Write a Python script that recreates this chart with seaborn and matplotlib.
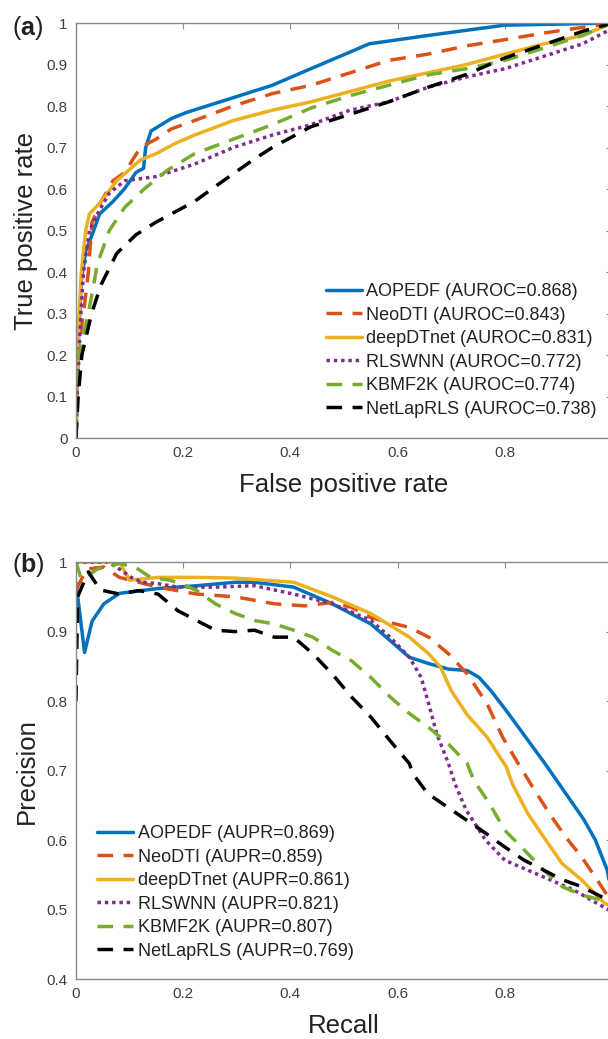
import numpy as np
import pandas as pd
import matplotlib
matplotlib.use("Agg")
import matplotlib.pyplot as plt
import seaborn as sns

sns.set_style("white")
plt.rcParams['font.family'] = ['Liberation Sans', 'DejaVu Sans']
plt.rcParams['mathtext.fontset'] = 'custom'
plt.rcParams['mathtext.rm'] = 'Liberation Sans'
plt.rcParams['mathtext.bf'] = 'Liberation Sans:bold'

methods = ["AOPEDF", "NeoDTI", "deepDTnet", "RLSWNN", "KBMF2K", "NetLapRLS"]
auroc = ["0.868", "0.843", "0.831", "0.772", "0.774", "0.738"]
aupr = ["0.869", "0.859", "0.861", "0.821", "0.807", "0.769"]
colors = ["#0072BD", "#D95319", "#EDB120", "#7E2F8E", "#77AC30", "#000000"]
styles = ["-", (0, (4.5, 3)), "-", (0, (1, 1.1)), (0, (4.5, 3)), (0, (4.5, 3))]

# ROC curves (false positive rate, true positive rate)
roc_fpr = {
    "AOPEDF": [0, 0.002, 0.005, 0.01, 0.018, 0.033, 0.044, 0.069, 0.09, 0.112, 0.126, 0.13, 0.14,
               0.178, 0.207, 0.293, 0.366, 0.438, 0.511, 0.547, 0.656, 0.80, 1.0],
    "NeoDTI": [0, 0.003, 0.008, 0.014, 0.023, 0.03, 0.047, 0.069, 0.091, 0.12, 0.149, 0.178, 0.221,
               0.293, 0.366, 0.438, 0.511, 0.583, 0.656, 0.728, 0.80, 0.873, 1.0],
    "deepDTnet": [0, 0.003, 0.006, 0.01, 0.018, 0.025, 0.047, 0.076, 0.12, 0.149, 0.185, 0.221, 0.293,
                  0.366, 0.438, 0.511, 0.583, 0.656, 0.728, 0.80, 0.873, 0.945, 1.0],
    "RLSWNN": [0, 0.002, 0.009, 0.014, 0.025, 0.040, 0.062, 0.091, 0.149, 0.221, 0.293, 0.366, 0.438,
               0.511, 0.583, 0.656, 0.728, 0.80, 0.873, 0.945, 0.99, 1.0],
    "KBMF2K": [0, 0.003, 0.005, 0.023, 0.04, 0.062, 0.091, 0.127, 0.17, 0.221, 0.293, 0.366, 0.438,
               0.511, 0.583, 0.656, 0.728, 0.80, 0.873, 0.945, 1.0],
    "NetLapRLS": [0, 0.004, 0.011, 0.029, 0.047, 0.076, 0.112, 0.149, 0.221, 0.264, 0.330, 0.366, 0.438,
                  0.511, 0.583, 0.656, 0.728, 0.80, 0.873, 0.945, 1.0],
}
roc_tpr = {
    "AOPEDF": [0, 0.1, 0.25, 0.38, 0.45, 0.5, 0.54, 0.57, 0.6, 0.64, 0.65, 0.7, 0.74,
               0.77, 0.785, 0.82, 0.85, 0.89, 0.93, 0.95, 0.97, 0.995, 1.0],
    "NeoDTI": [0, 0.15, 0.25, 0.3, 0.4, 0.52, 0.57, 0.62, 0.64, 0.70, 0.72, 0.745, 0.765,
               0.80, 0.83, 0.85, 0.88, 0.91, 0.925, 0.945, 0.96, 0.976, 1.0],
    "deepDTnet": [0, 0.2, 0.3, 0.4, 0.5, 0.54, 0.57, 0.62, 0.67, 0.685, 0.71, 0.73, 0.765,
                  0.79, 0.81, 0.835, 0.86, 0.88, 0.90, 0.925, 0.95, 0.97, 1.0],
    "RLSWNN": [0, 0.1, 0.3, 0.4, 0.5, 0.54, 0.59, 0.62, 0.63, 0.66, 0.70, 0.73, 0.755,
               0.79, 0.81, 0.845, 0.87, 0.89, 0.92, 0.95, 0.98, 0.985],
    "KBMF2K": [0, 0.1, 0.2, 0.3, 0.42, 0.5, 0.556, 0.60, 0.645, 0.685, 0.72, 0.755, 0.795,
               0.825, 0.85, 0.875, 0.89, 0.91, 0.94, 0.97, 1.0],
    "NetLapRLS": [0, 0.1, 0.2, 0.3, 0.37, 0.445, 0.49, 0.52, 0.57, 0.61, 0.67, 0.70, 0.75,
                  0.78, 0.81, 0.845, 0.876, 0.916, 0.948, 0.98, 1.0],
}

# PR curves (recall, precision)
pr_rec = {
    "AOPEDF": [0, 0.016, 0.03, 0.052, 0.081, 0.153, 0.225, 0.297, 0.333, 0.406, 0.478, 0.55, 0.586,
               0.622, 0.658, 0.695, 0.73, 0.752, 0.774, 0.803, 0.839, 0.875, 0.911, 0.947, 0.969,
               0.991, 1.0],
    "NeoDTI": [0, 0.02, 0.052, 0.081, 0.153, 0.225, 0.297, 0.37, 0.427, 0.478, 0.514, 0.55, 0.622,
               0.658, 0.695, 0.73, 0.767, 0.796, 0.825, 0.857, 0.886, 0.915, 0.943, 0.972, 1.0],
    "deepDTnet": [0, 0.081, 0.1, 0.153, 0.225, 0.297, 0.406, 0.478, 0.55, 0.622, 0.658, 0.68, 0.70,
                  0.73, 0.767, 0.803, 0.814, 0.843, 0.872, 0.907, 0.943, 0.986, 1.0],
    "RLSWNN": [0, 0.06, 0.081, 0.103, 0.124, 0.153, 0.19, 0.26, 0.333, 0.406, 0.478, 0.55, 0.586,
               0.622, 0.644, 0.658, 0.673, 0.695, 0.707, 0.728, 0.764, 0.80, 0.872, 0.929, 0.972, 1.0],
    "KBMF2K": [0, 0.01, 0.04, 0.081, 0.11, 0.139, 0.175, 0.196, 0.225, 0.26, 0.297, 0.333, 0.37,
               0.406, 0.442, 0.478, 0.514, 0.55, 0.586, 0.622, 0.658, 0.695, 0.73, 0.742, 0.771,
               0.80, 0.836, 0.872, 0.907, 0.943, 1.0],
    "NetLapRLS": [0, 0.003, 0.023, 0.045, 0.081, 0.117, 0.153, 0.19, 0.225, 0.26, 0.297, 0.333, 0.37,
                  0.406, 0.442, 0.478, 0.514, 0.55, 0.586, 0.622, 0.628, 0.656, 0.692, 0.728, 0.764,
                  0.80, 0.836, 0.872, 0.907, 0.943, 0.979, 1.0],
}
pr_prec = {
    "AOPEDF": [0.97, 0.87, 0.915, 0.94, 0.955, 0.962, 0.966, 0.971, 0.971, 0.964, 0.94, 0.911, 0.887,
               0.863, 0.854, 0.846, 0.844, 0.834, 0.815, 0.786, 0.748, 0.71, 0.67, 0.63, 0.60,
               0.557, 0.52],
    "NeoDTI": [0.96, 0.99, 0.993, 0.978, 0.964, 0.954, 0.95, 0.94, 0.937, 0.942, 0.935, 0.92, 0.906,
               0.892, 0.868, 0.839, 0.796, 0.748, 0.71, 0.67, 0.635, 0.603, 0.576, 0.543, 0.51],
    "deepDTnet": [1.0, 1.0, 0.974, 0.978, 0.978, 0.977, 0.971, 0.95, 0.926, 0.892, 0.868, 0.849, 0.815,
                  0.78, 0.748, 0.705, 0.681, 0.638, 0.605, 0.566, 0.543, 0.509, 0.505],
    "RLSWNN": [1.0, 1.0, 0.99, 0.978, 0.971, 0.969, 0.964, 0.964, 0.966, 0.954, 0.94, 0.916, 0.892,
               0.863, 0.834, 0.796, 0.753, 0.71, 0.681, 0.643, 0.6, 0.571, 0.547, 0.528, 0.509, 0.497],
    "KBMF2K": [1.0, 0.975, 0.99, 0.998, 0.993, 0.978, 0.974, 0.969, 0.959, 0.94, 0.926, 0.916, 0.911,
               0.902, 0.892, 0.873, 0.858, 0.834, 0.806, 0.782, 0.762, 0.738, 0.71, 0.686, 0.653,
               0.614, 0.586, 0.557, 0.533, 0.521, 0.51],
    "NetLapRLS": [0.80, 0.95, 0.986, 0.96, 0.954, 0.959, 0.954, 0.93, 0.916, 0.902, 0.9, 0.902, 0.892,
                  0.892, 0.868, 0.839, 0.806, 0.777, 0.743, 0.71, 0.696, 0.667, 0.648, 0.629, 0.61,
                  0.59, 0.571, 0.557, 0.543, 0.533, 0.519, 0.51],
}

spine_gray = "#8a8a8a"
text_gray = "#404040"

fig = plt.figure(figsize=(6.08, 10.39), dpi=100)
ax1 = fig.add_axes([0.125, 0.5784, 0.8816, 0.3994])
ax2 = fig.add_axes([0.125, 0.0577, 0.8816, 0.4013])


def draw_panel(ax, xs, ys, metric, scores):
    for m, c, ls, s in zip(methods, colors, styles, scores):
        sns.lineplot(x=xs[m], y=ys[m], ax=ax, color=c, linestyle=ls, linewidth=2.5,
                     sort=False, estimator=None, label=f"{m} ({metric}={s})")
    for sp in ax.spines.values():
        sp.set_color(spine_gray)
        sp.set_linewidth(1.0)
    ax.tick_params(direction="in", top=True, right=True, length=4, width=0.8,
                   color=spine_gray, labelcolor=text_gray, labelsize=11, pad=6)


draw_panel(ax1, roc_fpr, roc_tpr, "AUROC", auroc)
draw_panel(ax2, pr_rec, pr_prec, "AUPR", aupr)

# the x=1 tick sits on the cropped right edge, so its label is left blank
xticks = [0, 0.2, 0.4, 0.6, 0.8, 1.0]
xlabels = ["0", "0.2", "0.4", "0.6", "0.8", ""]
ax1.set_xlim(0, 1)
ax1.set_ylim(0, 1)
ax1.set_xticks(xticks, xlabels)
ax1.set_yticks(np.round(np.arange(0, 1.01, 0.1), 1),
               ["0"] + [f"{v:.1f}" for v in np.arange(0.1, 0.95, 0.1)] + ["1"])
ax2.set_xlim(0, 1)
ax2.set_ylim(0.4, 1)
ax2.set_xticks(xticks, xlabels)
ax2.set_yticks([0.4, 0.5, 0.6, 0.7, 0.8, 0.9, 1.0], ["0.4", "0.5", "0.6", "0.7", "0.8", "0.9", "1"])

ax1.set_xlabel("False positive rate", fontsize=18.5, color="#222222")
ax1.set_ylabel("True positive rate", fontsize=18.5, color="#222222")
ax2.set_xlabel("Recall", fontsize=18.5, color="#222222")
ax2.set_ylabel("Precision", fontsize=18.5, color="#222222")
for ax in (ax1, ax2):
    ax.xaxis.set_label_coords(0.5, -0.085)
    ax.yaxis.set_label_coords(-0.07, 0.5)

leg_kw = dict(frameon=False, fontsize=13, borderpad=0, borderaxespad=0, handlelength=2.0,
              handletextpad=0.25, labelspacing=0.36, labelcolor="#222222")
ax1.legend(loc="upper left", bbox_to_anchor=(0.466, 0.373), **leg_kw)
ax2.legend(loc="upper left", bbox_to_anchor=(0.039, 0.369), **leg_kw)

fig.text(0.02, 0.973, r"($\mathbf{a}$)", fontsize=18, va="center", ha="left", color="#222222")
fig.text(0.02, 0.4562, r"($\mathbf{b}$)", fontsize=18, va="center", ha="left", color="#222222")

fig.savefig("out.png", dpi=100)
